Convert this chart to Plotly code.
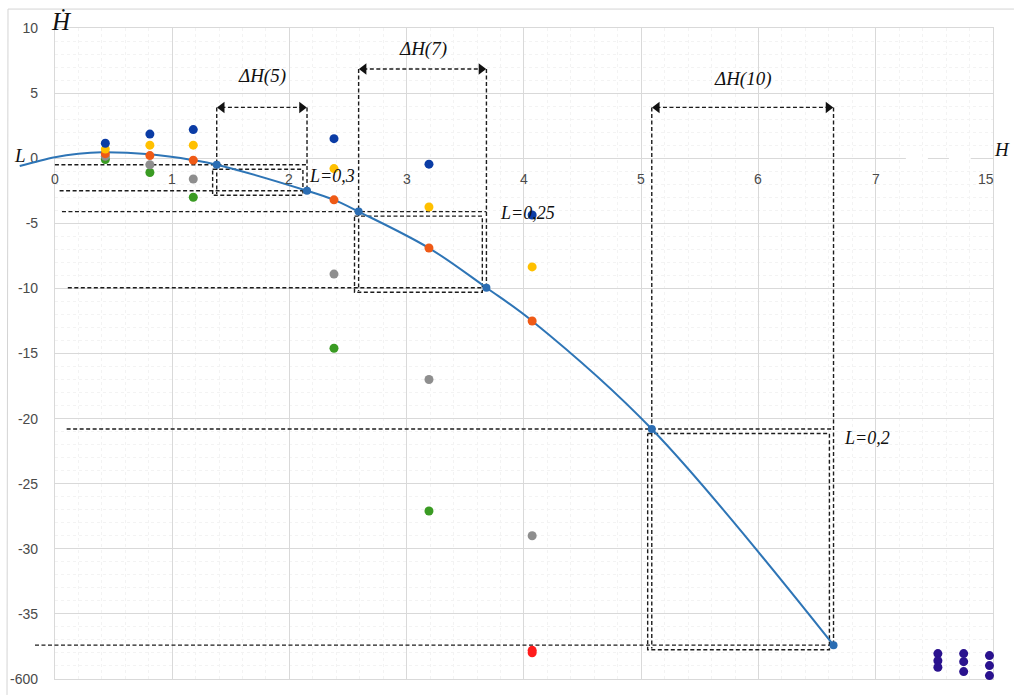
import plotly.graph_objects as go

# ---- axis labelling (the scale is broken: position 8 stands for 15, -40 for -600)
x_tick_pos = [0, 1, 2, 3, 4, 5, 6, 7, 8]
x_tick_text = ["0", "1", "2", "3", "4", "5", "6", "7", "15"]
y_tick_pos = [10, 5, 0, -5, -10, -15, -20, -25, -30, -35, -40]
y_tick_text = ["10", "5", "0", "-5", "-10", "-15", "-20", "-25", "-30", "-35", "-600"]

# ---- phase curve H' = f(H)
curve_x = [-0.30, 0.0, 0.2, 0.4, 0.81, 1.18, 1.38, 2.15, 2.38, 2.59, 3.19, 3.68, 4.07, 5.09, 6.64]
curve_y = [-0.6, 0.08, 0.35, 0.46, 0.3, -0.15, -0.5, -2.5, -3.2, -4.1, -6.9, -9.95, -12.5, -20.8, -37.4]

# interval end points on the curve
node_x = [1.38, 2.15, 2.59, 3.68, 5.09, 6.64]
node_y = [-0.5, -2.5, -4.1, -9.95, -20.8, -37.4]

# ---- computed series at fixed H
col_x = [0.43, 0.81, 1.18, 2.38, 3.19, 4.07]
blue_y = [1.15, 1.85, 2.2, 1.5, -0.46, -4.36]
yellow_y = [0.7, 1.0, 1.0, -0.8, -3.75, -8.35]
orange_y = [0.35, 0.2, -0.15, -3.2, -6.9, -12.5]
gray_y = [0.15, -0.5, -1.6, -8.9, -17.0, -29.0]
green_y = [-0.1, -1.1, -3.0, -14.6, -27.1, None]
red_x = [4.07, 4.07]
red_y = [-37.8, -37.98]
purple_x = [7.53, 7.53, 7.53, 7.75, 7.75, 7.75, 7.97, 7.97, 7.97]
purple_y = [-38.05, -38.6, -39.1, -38.05, -38.67, -39.43, -38.2, -38.97, -39.74]

# ---- intervals ΔH and their L values
pairs = [(0, 1), (2, 3), (4, 5)]
dh_text = ["ΔH(5)", "ΔH(7)", "ΔH(10)"]
l_text = ["L=0,3", "L=0,25", "L=0,2"]
bracket_y = [3.9, 6.85, 3.9]
dh_label_y = [6.3, 8.4, 6.1]
lead_top_x0 = [0.0, 0.06, 0.10]
lead_bot_x0 = [0.04, 0.11, -0.17]
l_pos_x = [2.15, 3.78, 6.71]
l_pos_y = [-1.38, -4.2, -21.5]

W, H = 1014, 697
ML, MR, MT, MB = 10, 21, 28, 16
PW, PH = W - ML - MR, H - MT - MB
X0_PIX = 53  # pixel of H = 0
UNIT = (W - MR - X0_PIX) / 8.0


def px(p):
    return (p - ML) / PW


def py(p):
    return 1 - (p - MT) / PH


fig = go.Figure()

# main subplot carries the grid and the tick labels
fig.add_trace(go.Scatter(x=[None], y=[None], xaxis="x", yaxis="y",
                         showlegend=False, hoverinfo="skip"))

# dashed construction lines
seg_x, seg_y = [], []
dx, dy = -0.035, -0.35
for k, (i, j) in enumerate(pairs):
    x1, y1, x2, y2 = node_x[i], node_y[i], node_x[j], node_y[j]
    yb = bracket_y[k]
    for xs, ys in [
        ([lead_top_x0[k], x2], [y1, y1]),
        ([lead_bot_x0[k], x2], [y2, y2]),
        ([x1, x1], [yb, y2 - 0.25]),
        ([x2, x2], [yb, y2 - 0.25]),
        ([x1 + dx, x2 + dx, x2 + dx, x1 + dx, x1 + dx],
         [y1 + dy, y1 + dy, y2 + dy, y2 + dy, y1 + dy]),
        ([x1 + 0.04, x2 - 0.04], [yb, yb]),
    ]:
        seg_x += xs + [None]
        seg_y += ys + [None]

fig.add_trace(go.Scatter(
    x=seg_x, y=seg_y, mode="lines", xaxis="x2", yaxis="y2",
    line=dict(color="#1c1c1c", width=1.4, dash="4px,2.5px"),
    showlegend=False, hoverinfo="skip"))

# arrow heads of the ΔH brackets
arr_x, arr_y, arr_sym = [], [], []
for k, (i, j) in enumerate(pairs):
    arr_x += [node_x[i] + 0.045, node_x[j] - 0.045]
    arr_y += [bracket_y[k], bracket_y[k]]
    arr_sym += ["triangle-left", "triangle-right"]
fig.add_trace(go.Scatter(
    x=arr_x, y=arr_y, mode="markers", xaxis="x2", yaxis="y2",
    marker=dict(symbol=arr_sym, size=10, color="#111111", line=dict(width=0)),
    showlegend=False, hoverinfo="skip"))

# the curve
fig.add_trace(go.Scatter(
    x=curve_x, y=curve_y, mode="lines", xaxis="x2", yaxis="y2",
    line=dict(color="#2e75b6", width=2, shape="spline", smoothing=1.0),
    showlegend=False, hoverinfo="skip"))

dot = dict(size=9, line=dict(width=0))
series = [
    (green_y, "#3a9b23"),
    (gray_y, "#8e8e8e"),
    (orange_y, "#ef5a16"),
    (yellow_y, "#ffc000"),
    (blue_y, "#0b3ca5"),
]
for vals, col in series:
    fig.add_trace(go.Scatter(
        x=col_x, y=vals, mode="markers", xaxis="x2", yaxis="y2",
        marker=dict(color=col, **dot), cliponaxis=False,
        showlegend=False, hoverinfo="skip"))

fig.add_trace(go.Scatter(
    x=node_x, y=node_y, mode="markers", xaxis="x2", yaxis="y2",
    marker=dict(color="#2b6db3", size=8, line=dict(width=0)), cliponaxis=False,
    showlegend=False, hoverinfo="skip"))

fig.add_trace(go.Scatter(
    x=red_x, y=red_y, mode="markers", xaxis="x2", yaxis="y2",
    marker=dict(color="#ff1c1c", size=9, line=dict(width=0)), cliponaxis=False,
    showlegend=False, hoverinfo="skip"))

fig.add_trace(go.Scatter(
    x=purple_x, y=purple_y, mode="markers", xaxis="x2", yaxis="y2",
    marker=dict(color="#2a128e", size=9, line=dict(width=0)), cliponaxis=False,
    showlegend=False, hoverinfo="skip"))

serif = "Liberation Serif, DejaVu Serif, serif"
sans = "Liberation Sans, Arial, sans-serif"
ann = []

# H tick labels sit along the H' = 0 line
for pos, txt in zip(x_tick_pos, x_tick_text):
    ann.append(dict(x=pos - 0.06 if txt == "15" else pos, y=0, xref="x", yref="y",
                    text=txt, showarrow=False, yshift=-21,
                    font=dict(family=sans, size=14, color="#4a4a4a")))

for k, (i, j) in enumerate(pairs):
    ann.append(dict(x=(node_x[i] + node_x[j]) / 2, y=dh_label_y[k], xref="x2", yref="y2",
                    text="<i>" + dh_text[k] + "</i>", showarrow=False,
                    font=dict(family=serif, size=19, color="#111111")))
    ann.append(dict(x=l_pos_x[k], y=l_pos_y[k], xref="x2", yref="y2", xanchor="left",
                    text="<i>" + l_text[k] + "</i>", showarrow=False,
                    font=dict(family=serif, size=18, color="#111111")))

for txt, cx, cy, size in [("Ḣ", 60, 21, 25), ("L", 18, 156, 19), ("H", 1002, 150, 19)]:
    ann.append(dict(x=px(cx), y=py(cy), xref="paper", yref="paper",
                    xanchor="center", yanchor="middle",
                    text="<i>" + txt + "</i>", showarrow=False,
                    font=dict(family=serif, size=size, color="#111111")))

shapes = [
    # break marks on the H axis
    dict(type="line", xref="x", yref="y", x0=7.257, x1=7.445, y0=0, y1=0,
         line=dict(color="white", width=3), layer="above"),
    dict(type="line", xref="x", yref="y", x0=7.624, x1=7.81, y0=0, y1=0,
         line=dict(color="white", width=3), layer="above"),
    # outer chart frame
    dict(type="line", xref="paper", yref="paper", x0=px(6), x1=px(1014), y0=py(9), y1=py(9),
         line=dict(color="#d4d4d4", width=1)),
    dict(type="line", xref="paper", yref="paper", x0=px(6), x1=px(5), y0=py(9), y1=py(697),
         line=dict(color="#d4d4d4", width=1)),
]

grid = "#d9d9d9"
minor_grid = dict(showgrid=True, gridcolor="#f3f3f3", griddash="dot", gridwidth=1)

fig.update_layout(
    width=W, height=H,
    margin=dict(l=ML, r=MR, t=MT, b=MB),
    paper_bgcolor="white", plot_bgcolor="rgba(0,0,0,0)",
    showlegend=False,
    xaxis=dict(domain=[px(X0_PIX), 1], range=[0, 8], anchor="y",
               tickmode="array", tickvals=x_tick_pos, showticklabels=False,
               showgrid=True, gridcolor=grid, zeroline=False,
               showline=True, mirror=True, linecolor=grid, ticks="",
               minor=dict(tickmode="linear", tick0=0, dtick=0.2, **minor_grid)),
    yaxis=dict(domain=[0, 1], range=[-40, 10], anchor="x",
               tickmode="array", tickvals=y_tick_pos, ticktext=y_tick_text,
               showgrid=True, gridcolor=grid, zeroline=False,
               showline=True, mirror=True, linecolor=grid, ticks="",
               ticklabelstandoff=13,
               tickfont=dict(family=sans, size=14, color="#4a4a4a"),
               minor=dict(tickmode="linear", tick0=0, dtick=1, **minor_grid)),
    xaxis2=dict(domain=[0, 1], range=[-(X0_PIX - ML) / UNIT, 8], anchor="y2",
                visible=False, showgrid=False, zeroline=False),
    yaxis2=dict(domain=[0, 1], range=[-40, 10], anchor="x2",
                visible=False, showgrid=False, zeroline=False),
    annotations=ann,
    shapes=shapes,
)

fig.write_html("out.html")
